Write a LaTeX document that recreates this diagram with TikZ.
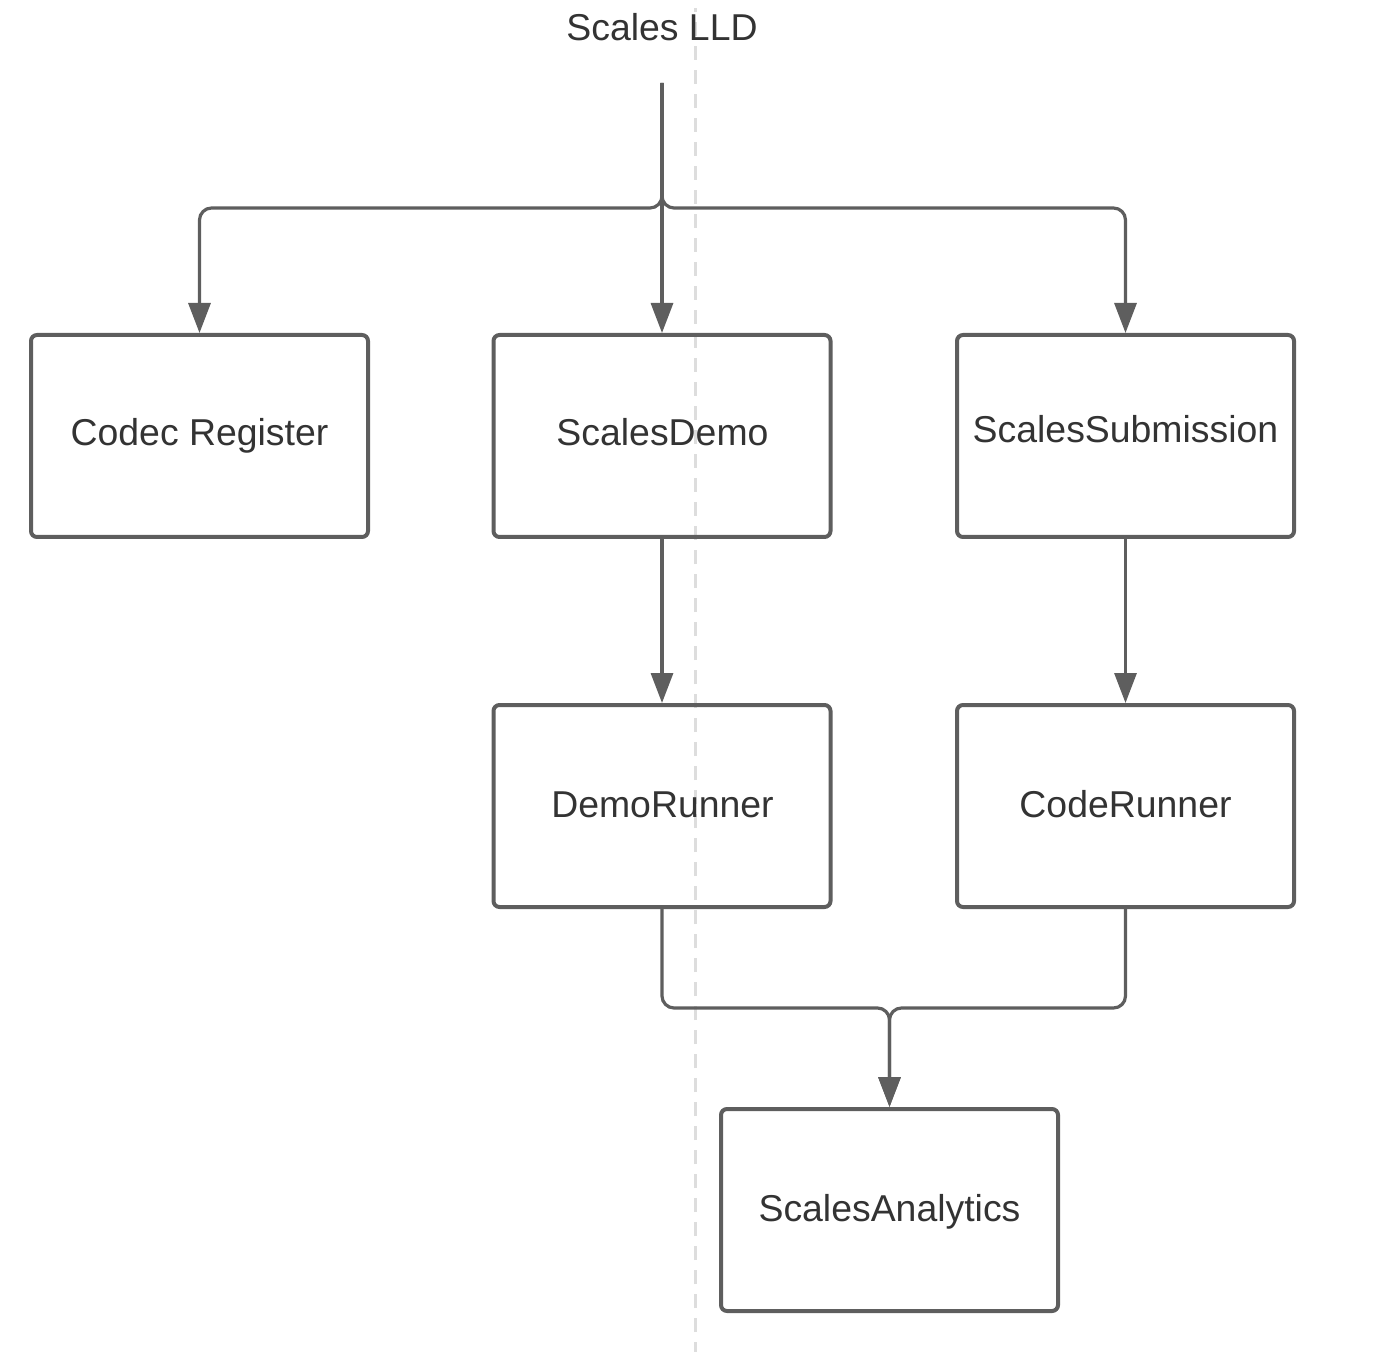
\documentclass[tikz,border=0pt]{standalone}
\usepackage{fontspec}
\setmainfont{Liberation Sans}
\usetikzlibrary{arrows.meta}
\definecolor{linec}{HTML}{5E5E5E}
\definecolor{textc}{HTML}{333333}
\definecolor{dashc}{HTML}{DDDDDD}
\tikzset{
  box/.style={draw=linec, line width=2pt, rounded corners=3pt, minimum width=168.5pt, minimum height=101pt, inner sep=0pt},
  lbl/.style={text=textc, font=\fontsize{18.7pt}{22pt}\selectfont, inner sep=0pt, anchor=base},
  conn/.style={draw=linec, line width=1.6pt, rounded corners=6pt, -{Triangle[length=15pt,width=11pt]}},
}
\begin{document}
\begin{tikzpicture}[x=0.5pt,y=-0.5pt]
\useasboundingbox (0,0) rectangle (1386,1352);
\draw[dashc, line width=1.5pt, dash pattern=on 7pt off 5pt] (695,1356) -- (695,8);
\node[lbl] (title) at (662,41) {Scales LLD};
\coordinate (top) at (662,83);
\node[box] (codec) at (199.5,436) {};
\node[box] (demo) at (662,436) {};
\node[box] (sub) at (1125.5,436) {};
\node[box] (drun) at (662,806) {};
\node[box] (crun) at (1125.5,806) {};
\node[box] (ana) at (889.5,1210) {};
\node[lbl] (codecl) at (199.5,446) {Codec Register};
\node[lbl] (demol) at (662.5,446) {ScalesDemo};
\node[lbl] (subl) at (1125.5,443) {ScalesSubmission};
\node[lbl] (drunl) at (662.5,817) {DemoRunner};
\node[lbl] (crunl) at (1125.5,817) {CodeRunner};
\node[lbl] (anal) at (889.5,1221) {ScalesAnalytics};
\draw[conn] (top) -- (demo.north);
\draw[conn] (top) -- (662,208) -- (codec.north |- 0,208) -- (codec.north);
\draw[conn] (top) -- (662,208) -- (sub.north |- 0,208) -- (sub.north);
\draw[conn] (demo.south) -- (drun.north);
\draw[conn] (sub.south) -- (crun.north);
\draw[conn] (drun.south) -- (662,1008) -- (ana.north |- 0,1008) -- (ana.north);
\draw[conn] (crun.south) -- (1125.5,1008) -- (ana.north |- 0,1008) -- (ana.north);
\end{tikzpicture}
\end{document}
